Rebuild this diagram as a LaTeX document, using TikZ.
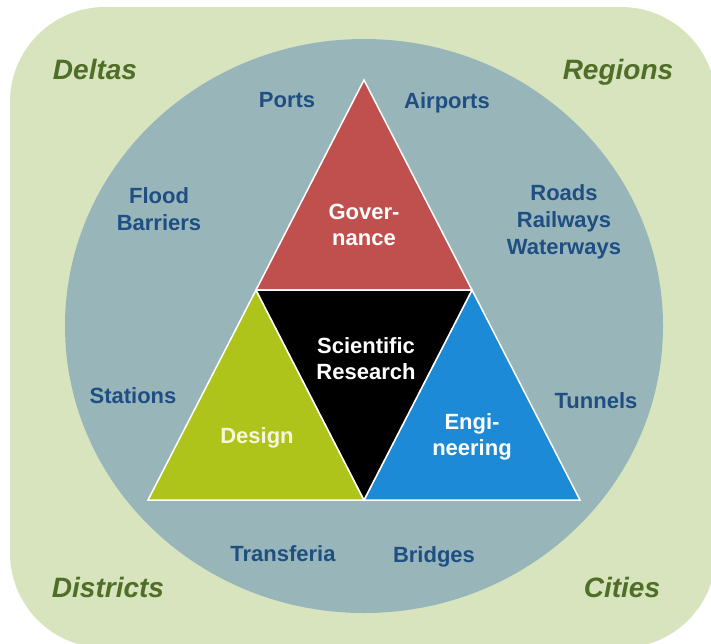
\documentclass[tikz,border=0pt]{standalone}
\usepackage{fontspec}
\setmainfont{Liberation Sans}
\definecolor{bggreen}{HTML}{D7E4BD}
\definecolor{circ}{HTML}{98B6BA}
\definecolor{govred}{HTML}{C0504D}
\definecolor{desgreen}{HTML}{AFC41B}
\definecolor{engblue}{HTML}{1C8AD6}
\definecolor{lblblue}{HTML}{1F4E82}
\definecolor{cornergreen}{HTML}{4F6E28}
\definecolor{cream}{HTML}{F6F6DA}
\begin{document}
\begin{tikzpicture}[x=1pt,y=-1pt,
  lbl/.style={font=\fontsize{22}{27}\selectfont\bfseries, text=lblblue, inner sep=0pt, align=center},
  corner/.style={font=\fontsize{28}{32}\selectfont\bfseries\itshape, text=cornergreen, inner sep=0pt},
  inlbl/.style={font=\fontsize{22}{26}\selectfont\bfseries, text=white, inner sep=0pt, align=center},
  tri/.style={draw=white, line width=1.5pt, line join=miter}]
\useasboundingbox (0,0) rectangle (711,643);
\fill[bggreen, rounded corners=95pt] (10,7) rectangle (716,648);
\fill[circ] (364,326) ellipse [x radius=299, y radius=287];
% triangle vertices
\coordinate (A) at (364,80);
\coordinate (L) at (148,500);
\coordinate (R) at (580,500);
\coordinate (ML) at (256,290);
\coordinate (MR) at (472,290);
\coordinate (MB) at (364,500);
\filldraw[tri, fill=govred] (A) -- (MR) -- (ML) -- cycle;
\filldraw[tri, fill=desgreen] (ML) -- (MB) -- (L) -- cycle;
\filldraw[tri, fill=engblue] (MR) -- (R) -- (MB) -- cycle;
\filldraw[tri, fill=black] (ML) -- (MR) -- (MB) -- cycle;
% inner labels
\node[inlbl] (gov) at (364,225) {Gover-\\nance};
\node[inlbl] (sci) at (366,359) {Scientific\\Research};
\node[inlbl, anchor=base, text=cream] (des) at (257,443) {Design};
\node[inlbl] (eng) at (472,437) {Engi-\\neering};
% outer labels
\node[lbl, anchor=base] (ports) at (287,107) {Ports};
\node[lbl, anchor=base] (airports) at (447,108) {Airports};
\node[lbl] (flood) at (159,209) {Flood\\Barriers};
\node[lbl] (roads) at (564,222) {Roads\\Railways\\Waterways};
\node[lbl, anchor=base] (stations) at (133,403) {Stations};
\node[lbl, anchor=base] (tunnels) at (596,408) {Tunnels};
\node[lbl, anchor=base] (transferia) at (283,561) {Transferia};
\node[lbl, anchor=base] (bridges) at (434,562) {Bridges};
% corner labels
\node[corner, anchor=base] (deltas) at (95,79) {Deltas};
\node[corner, anchor=base] (regions) at (618,79) {Regions};
\node[corner, anchor=base] (districts) at (108,597) {Districts};
\node[corner, anchor=base] (cities) at (622,597) {Cities};
\end{tikzpicture}
\end{document}
